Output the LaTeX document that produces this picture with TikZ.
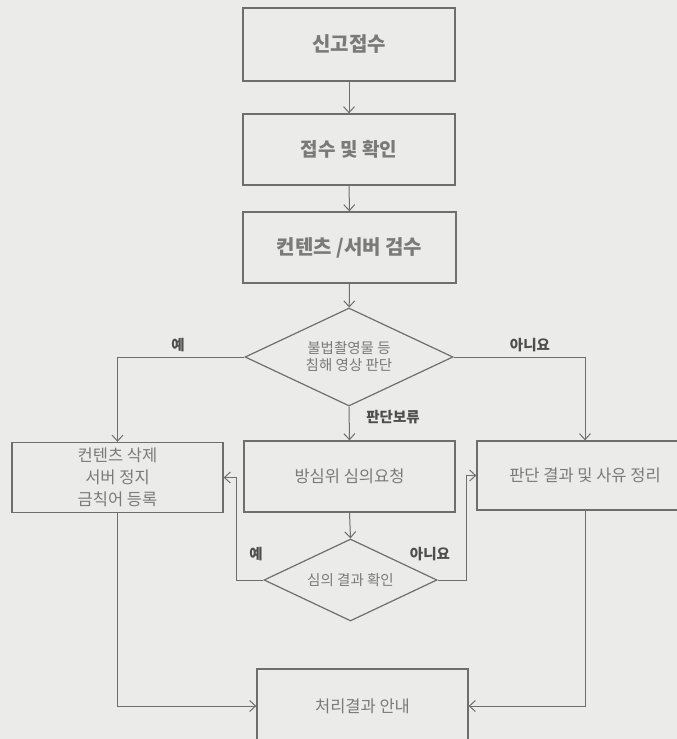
\documentclass[tikz,border=0pt]{standalone}
\usepackage{fontspec}
\setmainfont{Noto Sans CJK KR}
\usetikzlibrary{shapes.geometric,arrows.meta}
\definecolor{paper}{HTML}{EBEBE9}
\definecolor{ink}{HTML}{6E6E6E}
\definecolor{txt}{HTML}{7A7A7A}
\definecolor{lbl}{HTML}{4E4E4E}
\begin{document}
\begin{tikzpicture}[x=1pt, y=-1pt,
        box/.style={draw=ink, line width=1.3pt, rectangle, inner sep=0pt, text=txt, align=center, font=\fontsize{16.5}{22}\selectfont},
        choice/.style={draw=ink, line width=1.2pt, diamond, aspect=2.1, inner sep=0pt, text=txt, align=center, font=\fontsize{14.5}{17}\selectfont},
        flow/.style={draw=ink, line width=1pt, -{Straight Barb[length=6pt,width=11pt]}},
        answer/.style={text=lbl, font=\fontsize{14.5}{16}\selectfont\bfseries}]
        % page
        \fill[paper] (0,0) rectangle (677,739);
        \useasboundingbox (0,0) rectangle (677,739);

        % box 1
        \node[box, minimum width=212pt, minimum height=73pt, font=\fontsize{20}{24}\selectfont\bfseries] (submit) at (349,44.5) {신고접수};

        % box 2
        \node[box, minimum width=212pt, minimum height=71pt, font=\fontsize{19}{24}\selectfont\bfseries] (check) at (349,149.5) {접수 및 확인};

        % box 3
        \node[box, minimum width=213pt, minimum height=71pt, font=\fontsize{20}{24}\selectfont\bfseries] (inspect) at (349.5,247.5) {컨텐츠 /서버 검수};

        % decision 1
        \node[choice, minimum width=208pt, minimum height=98pt] (judge) at (349,357) {불법촬영물 등\\침해 영상 판단};

        % box left
        \node[box, minimum width=211pt, minimum height=70pt] (remove) at (117.5,477.5) {컨텐츠 삭제\\서버 정지\\금칙어 등록};

        % box middle
        \node[box, minimum width=211pt, minimum height=71pt] (review) at (349.5,476.5) {방심위 심의요청};

        % box right
        \node[box, minimum width=216pt, minimum height=69pt] (reason) at (585,475.5) {판단 결과 및 사유 정리};

        % decision 2
        \node[choice, minimum width=173pt, minimum height=82pt] (confirm) at (350.5,580) {심의 결과 확인};

        % box last
        \node[box, minimum width=211pt, minimum height=74pt] (notice) at (362.5,706) {처리결과 안내};

        % answers
        \node[answer] (yes1) at (178,345) {예};
        \node[answer] (no1) at (530,345) {아니요};
        \node[answer] (hold) at (393,417) {판단보류};
        \node[answer] (yes2) at (256,554) {예};
        \node[answer] (no2) at (430,554) {아니요};

        % arrows
        \draw[flow] (submit) -- (check);
        \draw[flow] (check) -- (inspect);
        \draw[flow] (inspect) -- (judge);
        \draw[flow] (judge.west) -| (remove.north);
        \draw[flow] (judge.east) -| (reason.north);
        \draw[flow] (judge.south) -- (review.north);
        \draw[flow] (review.south) -- (confirm.north);
        \draw[flow] (confirm.west) -- ++(-27,0) |- (remove.east);
        \draw[flow] (confirm.east) -- ++(29,0) |- (reason.west);
        \draw[flow] (remove.south) |- (notice.west);
        \draw[flow] (reason.south) |- (notice.east);
    \end{tikzpicture}
\end{document}
